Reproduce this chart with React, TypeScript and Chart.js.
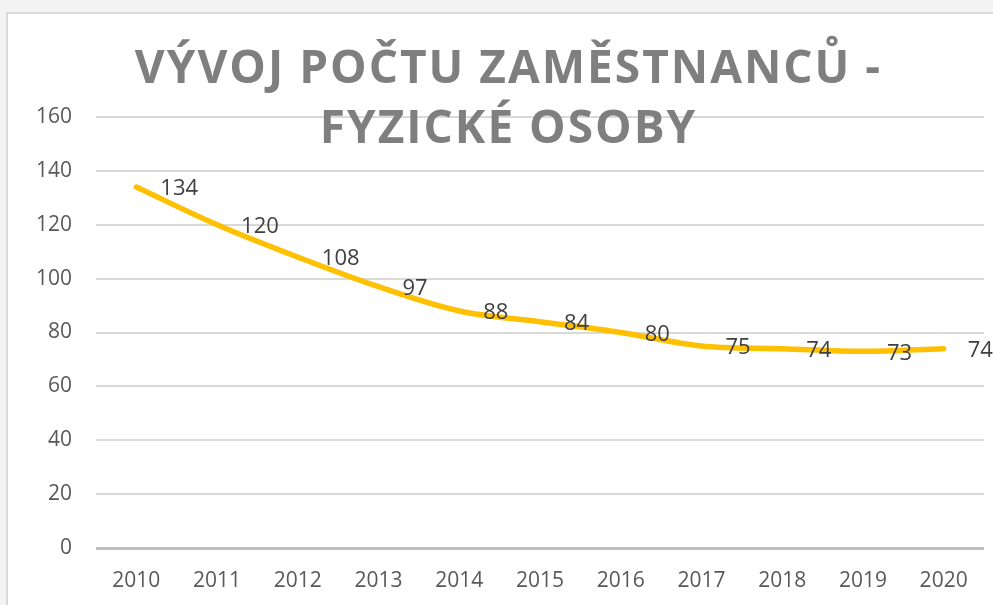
import React, { useEffect, useRef } from "react";
import { Chart, registerables } from "chart.js";

Chart.register(...registerables);

const years = ["2010", "2011", "2012", "2013", "2014", "2015", "2016", "2017", "2018", "2019", "2020"];
const employees = [134, 120, 108, 97, 88, 84, 80, 75, 74, 73, 74];
const titleLines = ["VÝVOJ POČTU ZAMĚSTNANCŮ -", "FYZICKÉ OSOBY"];
const yMin = 0;
const yMax = 160;
const yStep = 20;

const labelPlugin = {
  id: "pointLabels",
  afterDatasetsDraw(chart: any) {
    const ctx = chart.ctx;
    const meta = chart.getDatasetMeta(0);
    ctx.save();
    ctx.font = "22px 'Open Sans'";
    ctx.fillStyle = "#404040";
    ctx.textAlign = "left";
    ctx.textBaseline = "middle";
    meta.data.forEach((pt: any, i: number) => {
      ctx.fillText(String(employees[i]), pt.x + 24, pt.y + 2);
    });
    ctx.restore();
  },
};

export default function App() {
  const ref = useRef<HTMLCanvasElement>(null);
  useEffect(() => {
    if (!ref.current) return;
    const chart = new Chart(ref.current, {
      type: "line",
      data: {
        labels: years,
        datasets: [
          {
            data: employees,
            borderColor: "#FFC000",
            borderWidth: 5.5,
            pointRadius: 0,
            tension: 0.35,
            borderCapStyle: "round",
            borderJoinStyle: "round",
            clip: false,
          } as any,
        ],
      },
      options: {
        animation: false,
        responsive: true,
        maintainAspectRatio: false,
        layout: { padding: { left: 36, right: 9, top: 117, bottom: 0 } },
        plugins: { legend: { display: false }, tooltip: { enabled: false }, title: { display: false } },
        scales: {
          x: {
            offset: true,
            grid: { display: false, drawTicks: false },
            border: { display: false },
            ticks: { color: "#595959", font: { family: "'Open Sans'", size: 21 }, padding: 20, maxRotation: 0 },
            afterFit: (s: any) => { s.height = 57; },
          },
          y: {
            min: yMin,
            max: yMax,
            ticks: { stepSize: yStep, color: "#595959", font: { family: "'Open Sans'", size: 21 }, padding: 24 },
            grid: {
              drawTicks: false,
              lineWidth: (c: any) => (c.tick && c.tick.value === 0 ? 3 : 2),
              color: (c: any) => (c.tick && c.tick.value === 0 ? "#bfbfbf" : "#d9d9d9"),
            },
            border: { display: false },
            afterFit: (s: any) => { s.width = 60; },
          },
        },
      },
      plugins: [labelPlugin],
    });
    return () => chart.destroy();
  }, []);

  return (
    <div style={{ position: "absolute", left: 0, top: 0, width: 993, height: 605, background: "#f4f4f4", overflow: "hidden" }}>
      <div style={{ position: "absolute", left: 6, top: 12, width: 1000, height: 600, background: "#ffffff", border: "2px solid #dadada" }} />
      <div style={{ position: "absolute", left: 0, top: 0, width: 993, height: 605 }}>
        <canvas ref={ref} />
      </div>
      <div
        style={{
          position: "absolute",
          left: 12,
          top: 35,
          width: 993,
          textAlign: "center",
          fontFamily: "'Open Sans', sans-serif",
          fontWeight: 700,
          fontSize: 46,
          lineHeight: "60px",
          letterSpacing: 2,
          color: "#7f7f7f",
        }}
      >
        {titleLines.map((l, i) => (
          <div key={i}>{l}</div>
        ))}
      </div>
    </div>
  );
}
